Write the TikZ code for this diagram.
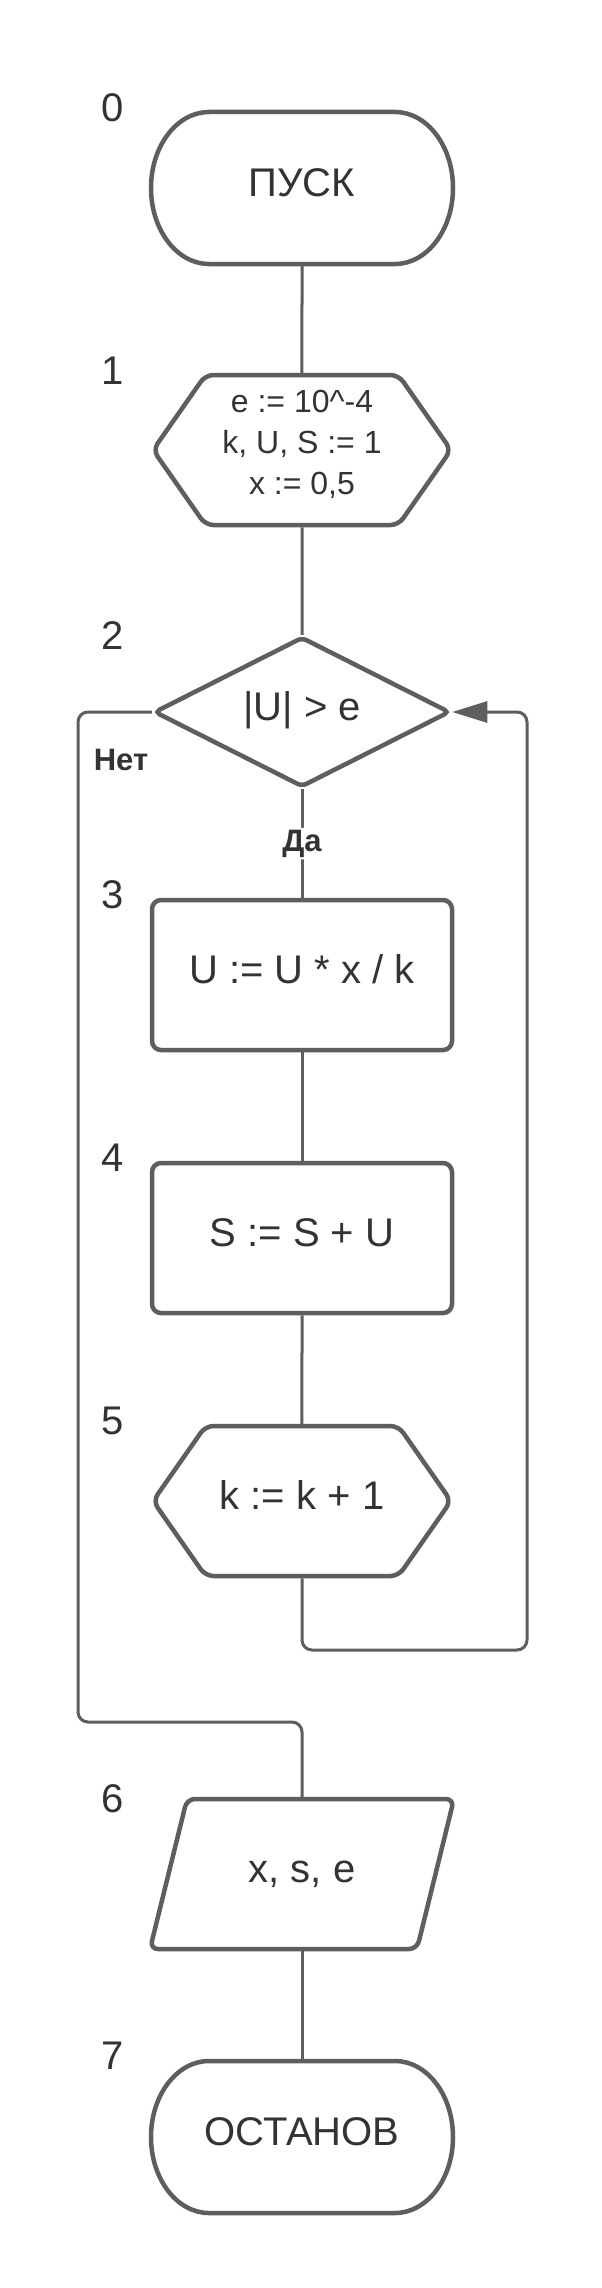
\documentclass[tikz,border=0pt]{standalone}
\usepackage{fontspec}
\setmainfont{Liberation Sans}
\usetikzlibrary{shapes.geometric,shapes.symbols,arrows.meta}
\definecolor{linegray}{HTML}{5E5E5E}
\definecolor{textgray}{HTML}{333333}
\tikzset{
  outline/.style={draw=linegray, line width=4.5pt},
  connector/.style={draw=linegray, line width=3pt, rounded corners=10pt},
  bigtext/.style={font=\fontsize{40}{48}\selectfont, text=textgray},
  smalltext/.style={font=\fontsize{32}{41}\selectfont, text=textgray},
  boldtext/.style={font=\fontsize{31}{36}\selectfont\bfseries, text=textgray},
  raised/.style={text height=29pt, text depth=12pt},
  termbox/.style={bigtext, raised, rectangle, minimum width=302pt, minimum height=152pt, inner sep=0pt, outer sep=0pt},
  hexbox/.style={outline, signal, signal to=west and east, signal pointer angle=110,
    rounded corners=8pt, minimum width=298pt, minimum height=150pt, inner sep=0pt},
  decision/.style={outline, bigtext, raised, diamond, aspect=1.95, rounded corners=5pt,
    minimum width=296pt, minimum height=150pt, inner sep=0pt},
  process/.style={outline, bigtext, raised, rectangle, rounded corners=9pt,
    minimum width=300pt, minimum height=150pt},
  iobox/.style={bigtext, raised, rectangle, minimum width=304pt, minimum height=150pt, inner sep=0pt, outer sep=0pt}
}
\begin{document}
\begin{tikzpicture}[x=1pt,y=1pt]
\path[use as bounding box, fill=white] (0,0) rectangle (602,-2288);

% blocks
\node[termbox] (start) at (302,-188) {ПУСК};
\draw[outline] ([xshift=58pt]start.north west) -- ([xshift=-58pt]start.north east)
  arc[start angle=90, end angle=-90, x radius=58pt, y radius=76pt]
  -- ([xshift=58pt]start.south west)
  arc[start angle=270, end angle=90, x radius=58pt, y radius=76pt] -- cycle;
\node[hexbox, smalltext, align=center, text depth=16pt] (init) at (302,-450) {e := 10\textasciicircum-4\\k, U, S := 1\\x := 0,5};
\node[decision] (check) at (302,-712) {|U| > e};
\node[process] (calcU) at (302,-975) {U := U * x / k};
\node[process] (calcS) at (302,-1238) {S := S + U};
\node[hexbox, bigtext, raised] (incK) at (302,-1501) {k := k + 1};
\node[iobox] (output) at (302,-1874) {x, s, e};
\draw[outline, rounded corners=8pt] ([xshift=37pt]output.north west) -- (output.north east)
  -- ([xshift=-37pt]output.south east) -- (output.south west) -- cycle;
\node[termbox] (stop) at (302,-2137) {ОСТАНОВ};
\draw[outline] ([xshift=58pt]stop.north west) -- ([xshift=-58pt]stop.north east)
  arc[start angle=90, end angle=-90, x radius=58pt, y radius=76pt]
  -- ([xshift=58pt]stop.south west)
  arc[start angle=270, end angle=90, x radius=58pt, y radius=76pt] -- cycle;

% block numbers
\foreach \n/\y in {0/108,1/371,2/636,3/895,4/1158,5/1421,6/1799,7/2056}
  \node[bigtext] (num\n) at (113,-\y) {\n};

% connectors
\draw[connector] (start) -- (init);
\draw[connector] (init) -- (check);
\draw[connector] (check) -- node[boldtext, fill=white, inner sep=2pt] (yes) {Да} (calcU);
\draw[connector] (calcU) -- (calcS);
\draw[connector] (calcS) -- (incK);
\coordinate (loopR) at (527,-1650);
\draw[connector, -{Triangle[length=35pt, width=21pt]}] (incK.south) |- (loopR) |- (check.east);
\coordinate (noL) at (78,-1722);
\draw[connector] (check.west) -| (noL) -| (output.north);
\node[boldtext] (no) at (121,-760) {Нет};
\draw[connector] (output) -- (stop);
\end{tikzpicture}
\end{document}
